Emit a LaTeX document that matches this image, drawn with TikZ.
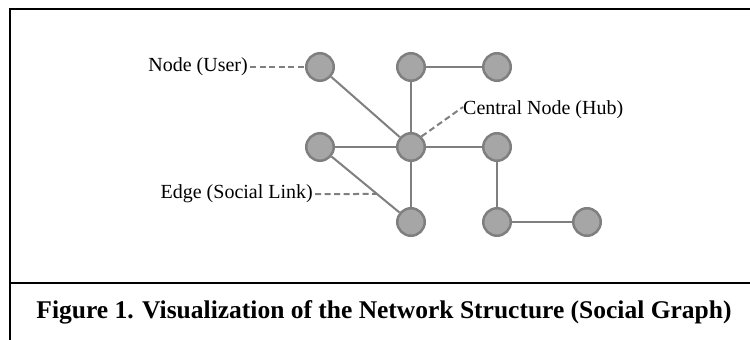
\documentclass[tikz,border=0pt]{standalone}
\usepackage{fontspec}
\setmainfont{Liberation Serif}
\usetikzlibrary{calc}
\definecolor{nodefill}{HTML}{A6A6A6}
\definecolor{edgegray}{HTML}{7F7F7F}
\tikzset{
  user/.style={circle, fill=nodefill, draw=edgegray, line width=2.5pt, minimum size=27.5pt, inner sep=0pt},
  link/.style={draw=edgegray, line width=2pt},
  leader/.style={draw=edgegray, line width=2pt, dash pattern=on 6pt off 3.5pt},
  lbl/.style={font=\fontsize{20}{22}\selectfont, inner sep=0pt, text=black},
  frameline/.style={draw=black, line width=2.2pt}
}
\begin{document}
\begin{tikzpicture}[x=1pt, y=-1pt]
\useasboundingbox (0,0) rectangle (750,340);
\clip (0,0) rectangle (750,340);
\fill[white] (0,0) rectangle (750,340);
% frame
\draw[frameline] (10,9) rectangle (762,360);
\draw[frameline] (10,283) -- (762,283);
% nodes
\node[user] (n1) at (320,67) {};
\node[user] (n2) at (411,67) {};
\node[user] (n3) at (497,67) {};
\node[user] (n4) at (320,147) {};
\node[user] (hub) at (411,147) {};
\node[user] (n5) at (497,147) {};
\node[user] (n6) at (411,222) {};
\node[user] (n7) at (497,222) {};
\node[user] (n8) at (587,222) {};
% edges
\draw[link] (n1) -- (hub);
\draw[link] (n2) -- (n3);
\draw[link] (n2) -- (hub);
\draw[link] (n4) -- (hub);
\draw[link] (hub) -- (n5);
\draw[link] (hub) -- (n6);
\draw[link] (n4) -- (n6);
\draw[link] (n5) -- (n7);
\draw[link] (n7) -- (n8);
% labels
\node[lbl, anchor=east] (lu) at (248,67) {Node (User)};
\draw[leader] ([xshift=2pt]lu.east) -- (n1.west);
\node[lbl, anchor=west] (lh) at (463,110) {Central Node (Hub)};
\draw[leader] (hub.north east) -- ([yshift=3pt]lh.west);
\node[lbl, anchor=east] (le) at (313,194) {Edge (Social Link)};
\coordinate (ehit) at (intersection of n4--n6 and le.east--{$(le.east)+(100,0)$});
\draw[leader] ([xshift=2pt]le.east) -- (ehit);
% caption
\node[font=\fontsize{25.5}{28}\selectfont\bfseries, inner sep=0pt] (cap) at (384,312) {Figure 1. Visualization of the Network Structure (Social Graph)};
\end{tikzpicture}
\end{document}
